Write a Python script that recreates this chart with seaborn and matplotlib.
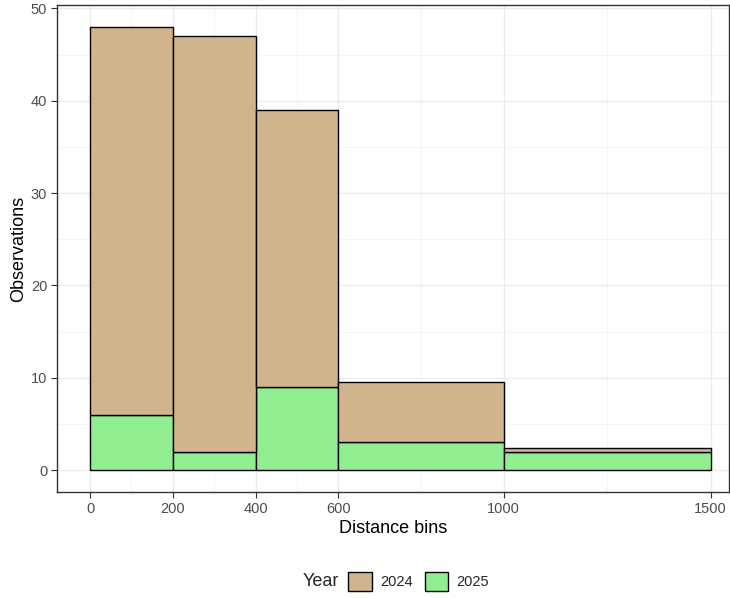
import matplotlib
matplotlib.use("Agg")
import matplotlib.pyplot as plt
import seaborn as sns
import pandas as pd
import numpy as np
from matplotlib.patches import Patch

# data
bin_edges = [0, 200, 400, 600, 1000, 1500]
obs_2024 = [42, 45, 30, 6.5, 0.35]
obs_2025 = [6, 2, 9, 3, 2]
years = ["2024", "2025"]
year_colors = {"2024": "#D2B48C", "2025": "#90EE90"}

mids = [(a + b) / 2 for a, b in zip(bin_edges[:-1], bin_edges[1:])]
df = pd.DataFrame({
    "distance": mids * 2,
    "obs": obs_2024 + obs_2025,
    "Year": ["2024"] * len(mids) + ["2025"] * len(mids),
})

sns.set_theme(style="whitegrid")
plt.rcParams["font.family"] = ["Liberation Sans", "DejaVu Sans"]

fig = plt.figure(figsize=(7.3, 5.98), dpi=100)
ax = fig.add_axes([0.078, 0.177, 0.921, 0.815])

# green (2025) first at the bottom, then tan (2024)
for yr in ["2025", "2024"]:
    sub = df[df["Year"] == yr]
    sns.histplot(data=sub, x="distance", weights="obs", bins=bin_edges,
                 color=year_colors[yr], alpha=1, edgecolor="black", linewidth=1,
                 ax=ax, legend=False, zorder=3)

# stack the 2024 bars on top of the 2025 ones
n = len(mids)
for k in range(n):
    ax.patches[n + k].set_y(obs_2025[k])

ax.set_xlim(-80, 1545)
ax.set_ylim(-2.4, 50.4)
ax.set_xticks([0, 200, 400, 600, 1000, 1500])
ax.set_xticks([100, 300, 500, 800, 1250], minor=True)
ax.set_yticks([0, 10, 20, 30, 40, 50])
ax.set_yticks([5, 15, 25, 35, 45], minor=True)
ax.grid(which="major", color="#EBEBEB", linewidth=1.0)
ax.grid(which="minor", color="#F3F3F3", linewidth=0.6)
ax.set_axisbelow(True)
ax.set_facecolor("white")
for s in ax.spines.values():
    s.set_color("#333333")
    s.set_linewidth(1.0)
ax.tick_params(axis="both", which="major", length=4, width=0.8, color="#333333",
               labelsize=10.5, labelcolor="#4D4D4D", pad=3, bottom=True, left=True)
ax.tick_params(which="minor", length=0)
ax.set_xlabel("Distance bins", fontsize=13, color="black", labelpad=3)
ax.set_ylabel("Observations", fontsize=13, color="black", labelpad=3)

fig.text(0.439, 0.028, "Year", fontsize=13, ha="center", va="center")
handles = [Patch(facecolor=year_colors[y], edgecolor="black", linewidth=1) for y in years]
fig.legend(handles, years, loc="center left", bbox_to_anchor=(0.477, 0.028),
           ncol=2, frameon=False, fontsize=10.5, handlelength=1.6, handleheight=1.6,
           handletextpad=0.6, columnspacing=0.8, borderaxespad=0, borderpad=0)

fig.savefig("out.png", dpi=100)
